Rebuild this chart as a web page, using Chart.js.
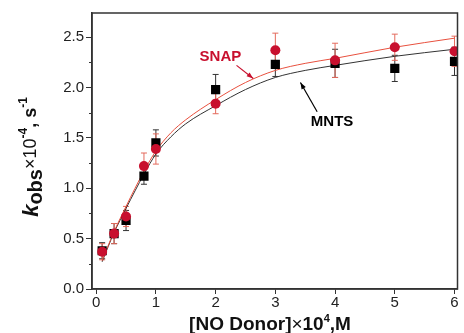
<!DOCTYPE html>
<html>
<head>
<meta charset="utf-8">
<script src="https://cdn.jsdelivr.net/npm/chart.js@4.4.0/dist/chart.umd.min.js"></script>
<style>
  html, body { margin: 0; padding: 0; background: #fff; }
  #c { display: block; }
</style>
</head>
<body>
<canvas id="c" width="464" height="333"></canvas>
<script>
// measured points
const donorX = [0.1, 0.3, 0.5, 0.8, 1, 2, 3, 4, 5, 6];
const snapY = [0.37, 0.55, 0.72, 1.22, 1.39, 1.84, 2.37, 2.27, 2.40, 2.36];
const snapErr = [0.08, 0.10, 0.10, 0.13, 0.15, 0.10, 0.17, 0.17, 0.13, 0.15];
const mntsY = [0.38, 0.55, 0.68, 1.12, 1.45, 1.98, 2.23, 2.24, 2.19, 2.26];
const mntsErr = [0.08, 0.10, 0.10, 0.08, 0.13, 0.15, 0.12, 0.14, 0.13, 0.14];

// fitted curves
const fitX = [0.1, 0.2, 0.3, 0.5, 0.8, 1.0, 1.25, 1.5, 2, 2.5, 3, 3.5, 4, 5, 6];
const snapFit = [0.28, 0.43, 0.57, 0.82, 1.17, 1.37, 1.55, 1.68, 1.88, 2.05, 2.17, 2.24, 2.29, 2.40, 2.49];
const mntsFit = [0.27, 0.42, 0.56, 0.80, 1.14, 1.34, 1.51, 1.64, 1.82, 1.98, 2.10, 2.17, 2.22, 2.31, 2.38];

const xTicks = [0, 1, 2, 3, 4, 5, 6];
const yTicks = [0, 0.5, 1.0, 1.5, 2.0, 2.5];
const yMinorTicks = [0.25, 0.75, 1.25, 1.75, 2.25];

const RED = '#c8102e';
const RED_LINE = '#e8503e';
const RED_ERR = '#e46a5c';
const DARK = '#222';
const FONT = '"Liberation Sans", Arial, sans-serif';

const toPts = (xs, ys) => xs.map((x, i) => ({ x: x, y: ys[i] }));

// error bars, frame, minor ticks, labels and axis titles
const extras = {
  id: 'extras',
  beforeDatasetsDraw(chart) {
    const { ctx, scales: { x, y } } = chart;
    const drawErr = (ys, errs, color) => {
      ctx.save();
      ctx.strokeStyle = color;
      ctx.lineWidth = 1;
      donorX.forEach((v, i) => {
        const px = x.getPixelForValue(v);
        const top = y.getPixelForValue(ys[i] + errs[i]);
        const bot = y.getPixelForValue(ys[i] - errs[i]);
        ctx.beginPath();
        ctx.moveTo(px, top); ctx.lineTo(px, bot);
        ctx.moveTo(px - 3, top); ctx.lineTo(px + 3, top);
        ctx.moveTo(px - 3, bot); ctx.lineTo(px + 3, bot);
        ctx.stroke();
      });
      ctx.restore();
    };
    drawErr(mntsY, mntsErr, '#333');
    drawErr(snapY, snapErr, RED_ERR);
  },
  afterDraw(chart) {
    const { ctx, chartArea: a, scales: { x, y } } = chart;
    ctx.save();
    // frame
    ctx.strokeStyle = '#333';
    ctx.lineWidth = 1.5;
    ctx.strokeRect(a.left, a.top, a.right - a.left, a.bottom - a.top);
    // minor y ticks
    ctx.lineWidth = 1;
    yMinorTicks.forEach(v => {
      const py = Math.round(y.getPixelForValue(v)) + 0.5;
      ctx.beginPath();
      ctx.moveTo(a.left - 3, py); ctx.lineTo(a.left, py);
      ctx.stroke();
    });

    // arrow helper
    const arrow = (x0, y0, x1, y1, color) => {
      const p0 = [x.getPixelForValue(x0), y.getPixelForValue(y0)];
      const p1 = [x.getPixelForValue(x1), y.getPixelForValue(y1)];
      ctx.strokeStyle = color; ctx.fillStyle = color; ctx.lineWidth = 1.2;
      ctx.beginPath(); ctx.moveTo(p0[0], p0[1]); ctx.lineTo(p1[0], p1[1]); ctx.stroke();
      const ang = Math.atan2(p1[1] - p0[1], p1[0] - p0[0]);
      ctx.beginPath();
      ctx.moveTo(p1[0], p1[1]);
      ctx.lineTo(p1[0] - 7 * Math.cos(ang - 0.35), p1[1] - 7 * Math.sin(ang - 0.35));
      ctx.lineTo(p1[0] - 7 * Math.cos(ang + 0.35), p1[1] - 7 * Math.sin(ang + 0.35));
      ctx.closePath(); ctx.fill();
    };

    ctx.font = 'bold 15px ' + FONT;
    ctx.textAlign = 'center';
    ctx.textBaseline = 'middle';
    ctx.fillStyle = RED;
    ctx.fillText('SNAP', x.getPixelForValue(2.08), y.getPixelForValue(2.30));
    arrow(2.35, 2.22, 2.63, 2.09, RED);
    ctx.fillStyle = '#000';
    ctx.fillText('MNTS', x.getPixelForValue(3.95), y.getPixelForValue(1.66));
    arrow(3.70, 1.76, 3.42, 2.05, '#000');

    // rich text helper: parts drawn left to right on the baseline
    const rich = (parts, cx, cy) => {
      let w = 0;
      parts.forEach(p => { ctx.font = p.f; w += ctx.measureText(p.t).width; });
      let px = cx - w / 2;
      ctx.textAlign = 'left';
      ctx.textBaseline = 'alphabetic';
      parts.forEach(p => {
        ctx.font = p.f;
        ctx.fillText(p.t, px, cy + (p.dy || 0));
        px += ctx.measureText(p.t).width;
      });
    };

    ctx.fillStyle = '#111';
    // x title
    rich([
      { t: '[NO Donor]', f: 'bold 19px ' + FONT },
      { t: '\u00d7', f: '19px ' + FONT },
      { t: '10', f: 'bold 19px ' + FONT },
      { t: '4', f: 'bold 11px ' + FONT, dy: -8 },
      { t: ',M', f: 'bold 19px ' + FONT }
    ], 270, 330);

    // y title (rotated)
    ctx.save();
    ctx.translate(38, 157);
    ctx.rotate(-Math.PI / 2);
    rich([
      { t: 'k', f: 'italic bold 22px ' + FONT },
      { t: 'obs', f: 'bold 20px ' + FONT, dy: 4 },
      { t: '\u00d710', f: '18px ' + FONT, dy: -2 },
      { t: '-4', f: 'bold 12px ' + FONT, dy: -11 },
      { t: ', s', f: 'bold 18px ' + FONT, dy: -2 },
      { t: '-1', f: 'bold 12px ' + FONT, dy: -11 }
    ], 0, 0);
    ctx.restore();
    ctx.restore();
  }
};

new Chart(document.getElementById('c'), {
  type: 'scatter',
  data: {
    datasets: [
      {
        label: 'SNAP',
        data: toPts(donorX, snapY),
        pointStyle: 'circle',
        pointRadius: 5,
        backgroundColor: RED,
        borderColor: RED,
        borderWidth: 0,
        order: 0
      },
      {
        label: 'MNTS',
        data: toPts(donorX, mntsY),
        pointStyle: 'rect',
        pointRadius: 6.5,
        backgroundColor: '#000',
        borderColor: '#000',
        borderWidth: 0,
        order: 1
      },
      {
        label: 'SNAP fit',
        data: toPts(fitX, snapFit),
        showLine: true,
        pointRadius: 0,
        borderColor: RED_LINE,
        borderWidth: 1,
        cubicInterpolationMode: 'monotone',
        order: 2
      },
      {
        label: 'MNTS fit',
        data: toPts(fitX, mntsFit),
        showLine: true,
        pointRadius: 0,
        borderColor: '#333',
        borderWidth: 1,
        cubicInterpolationMode: 'monotone',
        order: 3
      }
    ]
  },
  options: {
    responsive: false,
    animation: false,
    layout: { padding: { left: 0, right: 2, top: 13, bottom: 0 } },
    plugins: {
      legend: { display: false },
      tooltip: { enabled: false }
    },
    scales: {
      x: {
        type: 'linear',
        min: -0.07,
        max: 6.05,
        afterBuildTicks: s => { s.ticks = xTicks.map(v => ({ value: v })); },
        afterFit: s => { s.height = 44; },
        grid: { drawOnChartArea: false, drawTicks: true, tickLength: 5, color: '#333', tickWidth: 1 },
        border: { display: true, color: '#333', width: 1.5 },
        ticks: { color: DARK, font: { family: FONT, size: 15 }, padding: 0, maxRotation: 0 }
      },
      y: {
        type: 'linear',
        min: 0,
        max: 2.74,
        afterBuildTicks: s => { s.ticks = yTicks.map(v => ({ value: v })); },
        afterFit: s => { s.width = 92; },
        grid: { drawOnChartArea: false, drawTicks: true, tickLength: 6, color: '#333', tickWidth: 1 },
        border: { display: true, color: '#333', width: 1.5 },
        ticks: {
          color: DARK,
          font: { family: FONT, size: 15 },
          padding: 2,
          callback: v => v.toFixed(1)
        }
      }
    }
  },
  plugins: [extras]
});
</script>
</body>
</html>
